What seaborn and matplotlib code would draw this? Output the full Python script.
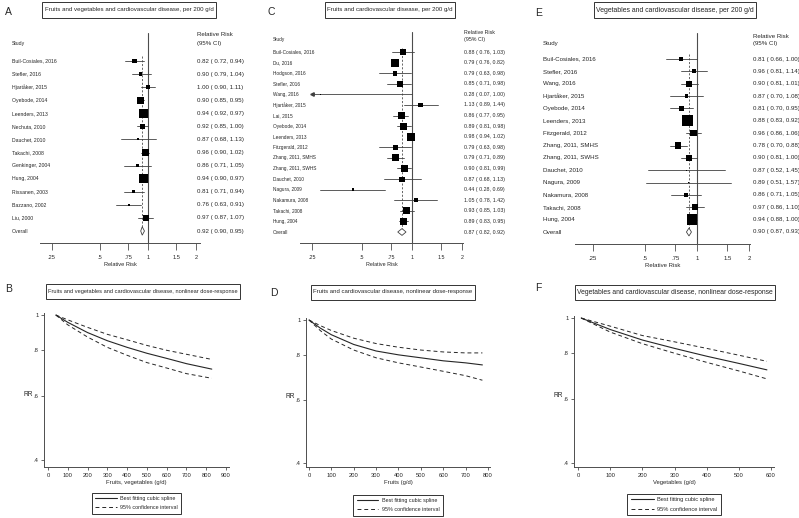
"""
Fruit / vegetable intake and cardiovascular disease:
forest plots (per 200 g/d) and nonlinear dose-response curves.
"""
import numpy as np
import matplotlib
matplotlib.use("Agg")
import matplotlib.pyplot as plt
import matplotlib.transforms as mtransforms
from matplotlib import font_manager
from matplotlib.lines import Line2D
from matplotlib.patches import Polygon, Rectangle
from matplotlib.ticker import NullLocator
import seaborn as sns

# ---------------- data: forest plots ----------------
studies_a = ["Buil-Cosiales, 2016", "Stefler, 2016", "Hjartåker, 2015", "Oyebode, 2014",
             "Leenders, 2013", "Nechuta, 2010", "Dauchet, 2010", "Takachi, 2008",
             "Genkinger, 2004", "Hung, 2004", "Rissanen, 2003", "Bazzano, 2002", "Liu, 2000"]
rr_a = [0.82, 0.90, 1.00, 0.90, 0.94, 0.92, 0.87, 0.96, 0.86, 0.94, 0.81, 0.76, 0.97]
lo_a = [0.72, 0.79, 0.90, 0.85, 0.92, 0.85, 0.68, 0.90, 0.71, 0.90, 0.71, 0.63, 0.87]
hi_a = [0.94, 1.04, 1.11, 0.95, 0.97, 1.00, 1.13, 1.02, 1.05, 0.97, 0.94, 0.91, 1.07]
weight_a = [5.4, 2.7, 3.9, 12.9, 19.7, 6.8, 1.0, 10.9, 1.7, 21.9, 2.7, 1.7, 8.8]
overall_a = (0.92, 0.90, 0.95)

studies_c = ["Buil-Cosiales, 2016", "Du, 2016", "Hodgson, 2016", "Stefler, 2016", "Wang, 2016",
             "Hjartåker, 2015", "Lai, 2015", "Oyebode, 2014", "Leenders, 2013",
             "Fitzgerald, 2012", "Zhang, 2011, SMHS", "Zhang, 2011, SWHS", "Dauchet, 2010",
             "Nagura, 2009", "Nakamura, 2008", "Takachi, 2008", "Hung, 2004"]
rr_c = [0.88, 0.79, 0.79, 0.85, 0.28, 1.13, 0.86, 0.89, 0.98, 0.79, 0.79, 0.90, 0.87, 0.44, 1.05, 0.93, 0.89]
lo_c = [0.76, 0.76, 0.63, 0.71, 0.07, 0.89, 0.77, 0.81, 0.94, 0.63, 0.71, 0.81, 0.68, 0.28, 0.78, 0.85, 0.83]
hi_c = [1.03, 0.82, 0.98, 0.98, 1.00, 1.44, 0.95, 0.98, 1.02, 0.98, 0.89, 0.99, 1.13, 0.69, 1.42, 1.03, 0.95]
weight_c = [5.8, 10.4, 3.6, 5.8, 0.2, 3.6, 7.3, 8.0, 10.4, 4.1, 8.0, 8.0, 4.1, 1.1, 2.6, 8.6, 8.6]
overall_c = (0.87, 0.82, 0.92)

studies_e = ["Buil-Cosiales, 2016", "Stefler, 2016", "Wang, 2016", "Hjartåker, 2015",
             "Oyebode, 2014", "Leenders, 2013", "Fitzgerald, 2012", "Zhang, 2011, SMHS",
             "Zhang, 2011, SWHS", "Dauchet, 2010", "Nagura, 2009", "Nakamura, 2008",
             "Takachi, 2008", "Hung, 2004"]
rr_e = [0.81, 0.96, 0.90, 0.87, 0.81, 0.88, 0.96, 0.78, 0.90, 0.87, 0.89, 0.86, 0.97, 0.94]
lo_e = [0.66, 0.81, 0.81, 0.70, 0.70, 0.83, 0.86, 0.70, 0.81, 0.52, 0.51, 0.71, 0.86, 0.88]
hi_e = [1.00, 1.14, 1.01, 1.08, 0.95, 0.92, 1.06, 0.88, 1.00, 1.45, 1.57, 1.05, 1.10, 1.00]
weight_e = [2.2, 3.1, 7.8, 2.2, 4.9, 22.9, 8.8, 7.1, 8.8, 0.2, 0.2, 3.1, 7.1, 21.6]
overall_e = (0.90, 0.87, 0.93)

forest_ticks = [0.25, 0.5, 0.75, 1, 1.5, 2]
forest_tick_labels = [".25", ".5", ".75", "1", "1.5", "2"]

# ---------------- data: dose-response curves ----------------
dose_fv = [40, 100, 200, 300, 400, 500, 600, 700, 828]
rr_fv = [1.0, 0.955, 0.895, 0.85, 0.815, 0.785, 0.76, 0.735, 0.71]
lo_fv = [1.0, 0.94, 0.87, 0.815, 0.775, 0.74, 0.715, 0.69, 0.67]
hi_fv = [1.0, 0.97, 0.925, 0.885, 0.855, 0.825, 0.80, 0.78, 0.755]

dose_f = [0, 50, 100, 200, 300, 400, 500, 600, 700, 775]
rr_f = [1.0, 0.95, 0.91, 0.855, 0.82, 0.80, 0.785, 0.77, 0.76, 0.75]
lo_f = [1.0, 0.935, 0.885, 0.825, 0.785, 0.76, 0.74, 0.72, 0.70, 0.68]
hi_f = [1.0, 0.965, 0.935, 0.89, 0.86, 0.84, 0.825, 0.815, 0.81, 0.81]

dose_v = [10, 100, 200, 300, 400, 500, 587]
rr_v = [1.0, 0.93, 0.87, 0.825, 0.785, 0.75, 0.72]
lo_v = [1.0, 0.915, 0.85, 0.80, 0.755, 0.715, 0.68]
hi_v = [1.0, 0.95, 0.895, 0.86, 0.825, 0.79, 0.76]

dose_yticks = [0.4, 0.6, 0.8, 1]
dose_ytick_labels = [".4", ".6", ".8", "1"]

# ---------------- style ----------------
sns.set_theme(style="ticks")
installed = {f.name for f in font_manager.fontManager.ttflist}
FONT = "Liberation Sans" if "Liberation Sans" in installed else "DejaVu Sans"
plt.rcParams["font.family"] = [FONT, "DejaVu Sans"]
plt.rcParams["axes.linewidth"] = 0.7
INK = "0.15"

W, H = 799, 518
fig = plt.figure(figsize=(W / 100, H / 100), dpi=100)
renderer = fig.canvas.get_renderer()


def px_axes(x0, y0, x1, y1):
    return fig.add_axes([x0 / W, 1 - y1 / H, (x1 - x0) / W, (y1 - y0) / H])


def ftext(x, y, s, **kw):
    kw.setdefault("color", INK)
    return fig.text(x / W, 1 - y / H, s, **kw)


def title_box(cx, cy, s, size, hpad=2.5, height=15):
    t = ftext(cx, cy, s, ha="center", va="center", fontsize=size, zorder=5)
    bb = t.get_window_extent(renderer)
    x0 = bb.x0 - hpad
    y0 = H - cy - height / 2
    fig.add_artist(Rectangle((x0 / W, y0 / H), (bb.width + 2 * hpad) / W, height / H,
                             transform=fig.transFigure, fc="white", ec="0.2", lw=0.7, zorder=4))


def forest(box, xlim, first_y, last_y, studies, rr, lo, hi, wt, overall, area_k,
           name_x, val_x, head_y, fs_name, fs_val, fs_axis):
    x0, y0, x1, y1 = box
    ax = px_axes(*box)
    ax.patch.set_alpha(0)
    n = len(studies)
    step = (last_y - first_y) / n
    rows = np.arange(n)
    ax.set_xscale("log")
    ax.set_xlim(*xlim)
    ax.set_ylim(n + (y1 - last_y) / step, -(first_y - y0) / step)

    est, olo, ohi = overall
    ax.axvline(1, color="0.3", lw=0.8, zorder=1)
    ax.plot([est, est], [-0.4, n], color="0.3", lw=0.6, ls=(0, (2.5, 2)), zorder=1)
    floor = forest_ticks[0]
    for y, l, h in zip(rows, lo, hi):
        ax.plot([max(l, floor), h], [y, y], color="0.25", lw=0.6, zorder=2)
        if l < floor:
            ax.plot(floor, y, marker="<", ms=2.5, color="0.25", zorder=2)
    wmin, wmax = min(wt), max(wt)
    sns.scatterplot(x=rr, y=rows, size=wt, sizes=(area_k * wmin, area_k * wmax),
                    size_norm=(wmin, wmax), marker="s", color="black", linewidth=0,
                    legend=False, ax=ax, zorder=3)
    dy = 0.32
    ax.add_patch(Polygon([(olo, n), (est, n - dy), (ohi, n), (est, n + dy)], closed=True,
                         fc="white", ec="0.25", lw=0.6, zorder=3))

    for side in ("top", "left", "right"):
        ax.spines[side].set_visible(False)
    ax.spines["bottom"].set_color("0.3")
    ax.set_yticks([])
    ax.set_xticks(forest_ticks)
    ax.set_xticklabels(forest_tick_labels)
    ax.xaxis.set_minor_locator(NullLocator())
    ax.tick_params(axis="x", length=5, width=0.6, color="0.3", pad=3.5,
                   labelsize=fs_axis, labelcolor=INK)
    ax.set_xlabel("Relative Risk", fontsize=fs_axis, labelpad=1.5, color=INK)
    ax.set_ylabel("")

    tr = mtransforms.blended_transform_factory(fig.transFigure, ax.transData)
    labels = list(studies) + ["Overall"]
    values = [f"{r:.2f} ( {l:.2f}, {h:.2f})" for r, l, h in zip(rr, lo, hi)]
    values.append(f"{est:.2f} ( {olo:.2f}, {ohi:.2f})")
    for y, s, v in zip(range(n + 1), labels, values):
        ax.text(name_x / W, y, s, transform=tr, ha="left", va="center",
                fontsize=fs_name, color=INK)
        ax.text(val_x / W, y, v, transform=tr, ha="left", va="center",
                fontsize=fs_val, color=INK)
    ftext(name_x, head_y[0], "Study", ha="left", va="center", fontsize=fs_name)
    ftext(val_x, head_y[1], "Relative Risk", ha="left", va="center", fontsize=fs_val)
    ftext(val_x, head_y[2], "(95% CI)", ha="left", va="center", fontsize=fs_val)
    return ax


def dose_panel(box, xlim, ylim, xmax_tick, x, rr, lo, hi, xlabel, legend_top, fs, fs_leg):
    x0, y0, x1, y1 = box
    ax = px_axes(*box)
    ax.patch.set_alpha(0)
    dash = (0, (4, 3))
    sns.lineplot(x=x, y=rr, ax=ax, color=INK, lw=0.8)
    sns.lineplot(x=x, y=lo, ax=ax, color=INK, lw=0.7, linestyle=dash)
    sns.lineplot(x=x, y=hi, ax=ax, color=INK, lw=0.7, linestyle=dash)
    ax.set_yscale("log")
    ax.set_xlim(*xlim)
    ax.set_ylim(*ylim)
    ax.set_yticks(dose_yticks)
    ax.set_yticklabels(dose_ytick_labels)
    ax.yaxis.set_minor_locator(NullLocator())
    xt = np.arange(0, xmax_tick + 1, 100)
    ax.set_xticks(xt)
    ax.set_xticklabels([str(v) for v in xt])
    sns.despine(ax=ax)
    for side in ("left", "bottom"):
        ax.spines[side].set_color("0.3")
        ax.spines[side].set_linewidth(0.7)
    ax.tick_params(length=2.5, width=0.6, color="0.3", pad=1.5, labelsize=fs, labelcolor=INK)
    ax.set_xlabel(xlabel, fontsize=fs, labelpad=1.5, color=INK)
    ax.set_ylabel("")
    handles = [Line2D([], [], color=INK, lw=0.8), Line2D([], [], color=INK, lw=0.7, ls=dash)]
    leg = ax.legend(handles, ["Best fitting cubic spline", "95% confidence interval"],
                    loc="upper center", bbox_to_anchor=(0.5, -(legend_top - y1) / (y1 - y0)),
                    frameon=True, fancybox=False, edgecolor="0.2", framealpha=1,
                    borderpad=0.6, handlelength=4.0, handletextpad=0.6, labelspacing=0.8,
                    fontsize=fs_leg)
    leg.get_frame().set_linewidth(0.7)
    ftext(x0 - 16, (y0 + y1) / 2 + 4, "RR", ha="center", va="center", fontsize=fs + 0.6)
    return ax


# ---------------- forest plots ----------------
forest((40, 33, 200, 243), (0.2105, 2.117), 61, 231, studies_a, rr_a, lo_a, hi_a,
       weight_a, overall_a, 2.14, 12, 197, (43, 35, 44), 3.7, 4.4, 4.1)
forest((300, 32, 463, 243), (0.211, 2.03), 52, 232, studies_c, rr_c, lo_c, hi_c,
       weight_c, overall_c, 3.19, 273, 464, (40, 33, 39), 3.4, 3.8, 3.9)
forest((575, 33, 750, 244), (0.197, 2.03), 59, 232, studies_e, rr_e, lo_e, hi_e,
       weight_e, overall_e, 2.65, 543, 753, (43, 36, 43), 4.4, 4.4, 4.3)

# ---------------- dose-response curves ----------------
dose_panel((44, 313, 229, 467), (-20, 915), (0.382, 1.013), 900, dose_fv, rr_fv, lo_fv, hi_fv,
           "Fruits, vegetables (g/d)", 490, 4.2, 3.9)
dose_panel((306, 318, 490, 467), (-13.4, 809), (0.39, 1.013), 800, dose_f, rr_f, lo_f, hi_f,
           "Fruits (g/d)", 492, 4.2, 3.9)
dose_panel((574, 316, 774, 467), (-12.4, 609), (0.389, 1.013), 600, dose_v, rr_v, lo_v, hi_v,
           "Vegetables (g/d)", 491, 4.2, 4.1)

# ---------------- titles and panel letters ----------------
title_box(129, 10, "Fruits and vegetables and cardiovascular disease, per 200 g/d", 4.45)
title_box(390, 10, "Fruits and cardiovascular disease, per 200 g/d", 4.45)
title_box(675, 10, "Vegetables and cardiovascular disease, per 200 g/d", 4.95)
title_box(143, 291, "Fruits and vegetables and cardiovascular disease, nonlinear dose-response", 4.05)
title_box(393, 292, "Fruits and cardiovascular disease, nonlinear dose-response", 4.3)
title_box(675, 292, "Vegetables and cardiovascular disease, nonlinear dose-response", 4.85)

for letter, x, y in [("A", 5, 12), ("B", 5, 289), ("C", 267, 12),
                     ("D", 270, 293), ("E", 535, 13), ("F", 535, 288)]:
    ftext(x, y, letter, ha="left", va="center", fontsize=7.5)

fig.savefig("out.png", dpi=100, facecolor="white")
